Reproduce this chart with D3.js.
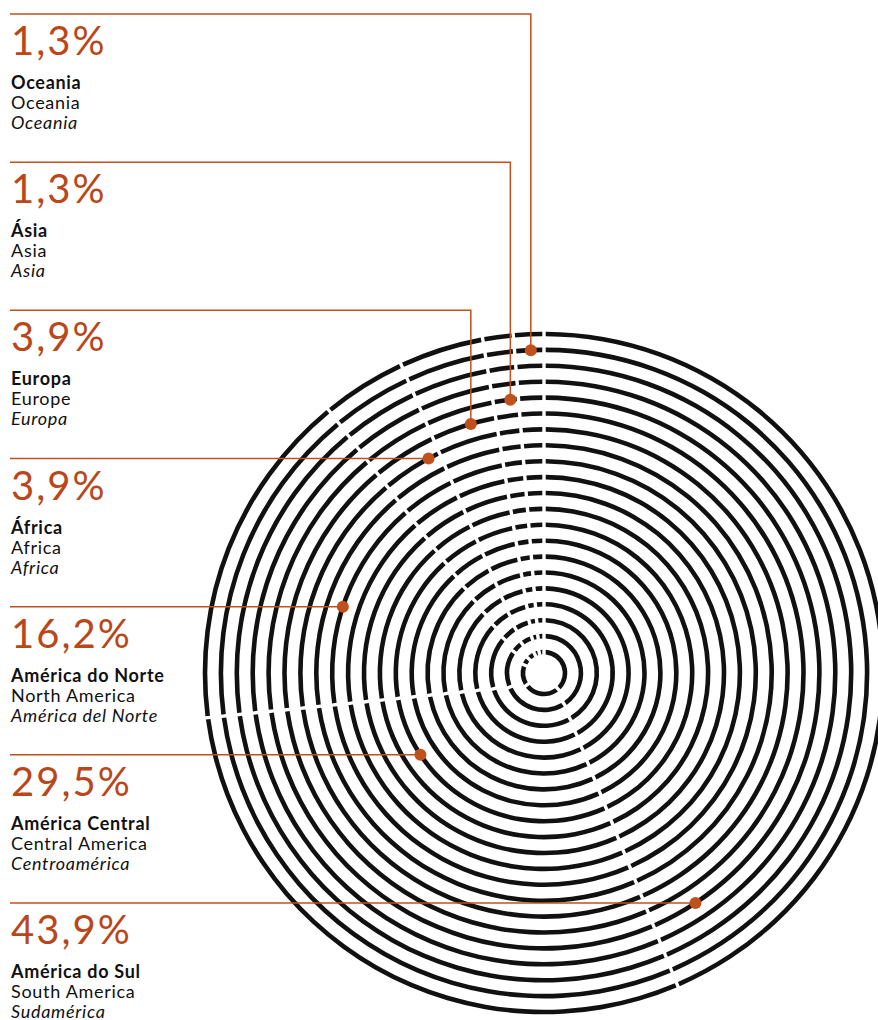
<!DOCTYPE html>
<html lang="pt">
<head>
<meta charset="UTF-8">
<title>Distribuição por continente</title>
<style>
    body, html { margin: 0; background: #fff; overflow: hidden; }
    text { font-family: Lato, "Noto Sans", sans-serif; }
</style>
</head>
<body>
<script src="https://d3js.org/d3.v7.min.js"></script>
<script>
    // data, in the order the rings are cut (clockwise from 12 o'clock)
    const regions = ["América do Sul", "América Central", "América do Norte", "África", "Europa", "Ásia", "Oceania"];
    const namesEn = ["South America", "Central America", "North America", "Africa", "Europe", "Asia", "Oceania"];
    const namesEs = ["Sudamérica", "Centroamérica", "América del Norte", "Africa", "Europa", "Asia", "Oceania"];
    const shares = [43.9, 29.5, 16.2, 3.9, 3.9, 1.3, 1.3];
    const shareLabels = ["43,9%", "29,5%", "16,2%", "3,9%", "3,9%", "1,3%", "1,3%"];
    // ring (0 = innermost) that carries each region's marker
    const markerRing = [16, 8, 12, 14, 15, 16, 19];
    // labels are listed top to bottom in reverse order
    const labelOrder = [6, 5, 4, 3, 2, 1, 0];

    const width = 878, height = 1020;
    const orange = "#c0501c";
    const ringCount = 21;

    const svg = d3.select("body").append("svg")
        .attr("width", width)
        .attr("height", height);

    const cx = 544, cy = 673;
    const r = d3.scaleLinear().domain([0, ringCount - 1]).range([21, 339]);

    const pie = d3.pie().sort(null).value(d => d);
    const slices = pie(shares);

    // rings, each cut into slices with a fixed-width white gap
    const ringG = svg.append("g").attr("transform", `translate(${cx},${cy})`);
    d3.range(ringCount).forEach(i => {
        const rr = r(i);
        const arc = d3.arc()
            .innerRadius(rr - 2.3)
            .outerRadius(rr + 2.3)
            .padRadius(rr);
        ringG.append("g").selectAll("path")
            .data(pie.padAngle(3.4 / rr)(shares))
            .join("path")
            .attr("d", arc)
            .attr("fill", "#111");
    });

    // label rows
    const rowY = d3.scaleLinear().domain([0, 6]).range([14, 903]);

    const rows = svg.append("g");
    labelOrder.forEach((k, row) => {
        const y0 = rowY(row);
        const rr = r(markerRing[k]);
        let mx, my, path;
        if (y0 < cy - rr) {
            // marker sits mid-slice, reached from above
            const a = (slices[k].startAngle + slices[k].endAngle) / 2;
            mx = cx + rr * Math.sin(a);
            my = cy - rr * Math.cos(a);
            path = `M10,${y0}H${mx}V${my}`;
        } else {
            // marker where the row's rule meets its ring
            const side = k === 0 ? 1 : -1;
            mx = cx + side * Math.sqrt(rr * rr - (y0 - cy) * (y0 - cy));
            my = y0;
            path = `M10,${y0}H${mx}`;
        }
        rows.append("path")
            .attr("d", path)
            .attr("fill", "none")
            .attr("stroke", orange)
            .attr("stroke-width", 1.5);
        rows.append("circle")
            .attr("cx", mx).attr("cy", my).attr("r", 6)
            .attr("fill", orange);

        const g = rows.append("g").attr("transform", `translate(11,${y0})`);
        g.append("text").attr("y", 41)
            .attr("font-size", 40).attr("fill", "#b9471a")
            .attr("letter-spacing", 2)
            .text(shareLabels[k]);
        g.append("text").attr("y", 75)
            .attr("font-size", 18).attr("font-weight", 700).attr("fill", "#111")
            .attr("letter-spacing", 0.7)
            .text(regions[k]);
        g.append("text").attr("y", 95)
            .attr("font-size", 18).attr("fill", "#111")
            .attr("letter-spacing", 0.7)
            .text(namesEn[k]);
        g.append("text").attr("y", 115)
            .attr("font-size", 18).attr("font-style", "italic").attr("fill", "#111")
            .attr("letter-spacing", 0.7)
            .text(namesEs[k]);
    });
</script>
</body>
</html>
